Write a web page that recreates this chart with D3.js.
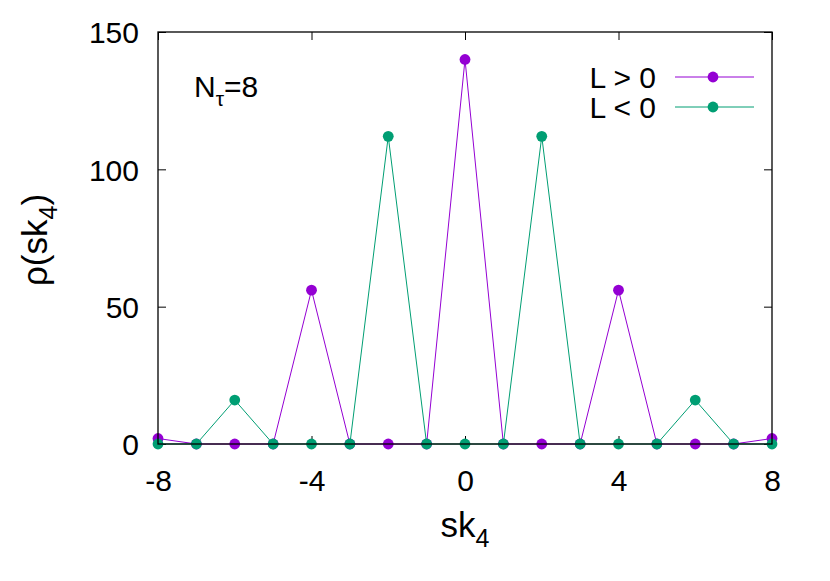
<!DOCTYPE html>
<html><head><meta charset="utf-8">
<script src="https://cdn.jsdelivr.net/npm/d3@7"></script>
<style>body{margin:0;background:#fff}text{font-family:"Liberation Sans",Arial,sans-serif}</style>
</head><body>
<svg id="c" width="830" height="581"></svg>
<script>
const xs = [-8,-7,-6,-5,-4,-3,-2,-1,0,1,2,3,4,5,6,7,8];
const posL = [2,0,0,0,56,0,0,0,140,0,0,0,56,0,0,0,2];
const negL = [0,0,16,0,0,0,112,0,0,0,112,0,0,0,16,0,0];
const xTicks = [-8,-4,0,4,8];
const yTicks = [0,50,100,150];
const seriesNames = ["L > 0","L < 0"];
const colors = ["#9400d3","#009e73"];

const svg = d3.select("#c");
const L=158,R=772,T=32,B=444;
const x = d3.scaleLinear().domain([-8,8]).range([L,R]);
const y = d3.scaleLinear().domain([0,150]).range([B,T]);
const FS = 30;

const g = svg.append("g");
const xa = g.append("g").attr("transform",`translate(0,${B})`)
  .call(d3.axisBottom(x).tickValues(xTicks).tickSize(-8).tickPadding(26).tickFormat(d=>String(d)));
const xt = g.append("g").attr("transform",`translate(0,${T})`)
  .call(d3.axisTop(x).tickValues(xTicks).tickSize(-8).tickFormat(""));
const ya = g.append("g").attr("transform",`translate(${L},0)`)
  .call(d3.axisLeft(y).tickValues(yTicks).tickSize(-8).tickPadding(19).tickFormat(d=>String(d)));
const yr = g.append("g").attr("transform",`translate(${R},0)`)
  .call(d3.axisRight(y).tickValues(yTicks).tickSize(-8).tickFormat(""));
[xa,xt,ya,yr].forEach(a=>{a.select(".domain").remove();a.selectAll("line").attr("stroke","#000");a.selectAll("text").attr("font-size",FS).attr("fill","#000").style("font-family","Liberation Sans, Arial, sans-serif");});
ya.selectAll("text").attr("dy","0.36em");

const data=[posL,negL];
data.forEach((vals,i)=>{
  const pts = xs.map((v,j)=>[v,vals[j]]);
  g.append("path").datum(pts).attr("fill","none").attr("stroke",colors[i]).attr("stroke-width",1)
    .attr("d",d3.line().x(d=>x(d[0])).y(d=>y(d[1])));
  g.selectAll(null).data(pts).enter().append("circle")
    .attr("cx",d=>x(d[0])).attr("cy",d=>y(d[1])).attr("r",5.4).attr("fill",colors[i]);
});

g.append("rect").attr("x",L).attr("y",T).attr("width",R-L).attr("height",B-T)
  .attr("fill","none").attr("stroke","#000").attr("stroke-width",1.3);

seriesNames.forEach((n,i)=>{
  const ly = 77 + i*30;
  g.append("text").attr("x",656).attr("y",ly).attr("dy","0.36em").attr("text-anchor","end")
    .attr("font-size",FS).text(n);
  g.append("line").attr("x1",675).attr("x2",754).attr("y1",ly).attr("y2",ly)
    .attr("stroke",colors[i]).attr("stroke-width",1);
  g.append("circle").attr("cx",713).attr("cy",ly).attr("r",5.4).attr("fill",colors[i]);
});

const nt = g.append("text").attr("x",194).attr("y",97).attr("font-size",FS);
nt.append("tspan").text("N");
nt.append("tspan").attr("font-size",21).attr("dy",9).text("τ");
nt.append("tspan").attr("dy",-9).text("=8");

const xl = g.append("text").attr("x",465).attr("y",537).attr("text-anchor","middle").attr("font-size",35);
xl.append("tspan").text("sk");
xl.append("tspan").attr("font-size",25).attr("dy",10).text("4");

const yl = g.append("text").attr("transform","translate(47,240) rotate(-90)").attr("text-anchor","middle").attr("font-size",35);
yl.append("tspan").text("ρ(sk");
yl.append("tspan").attr("font-size",25).attr("dy",10).text("4");
yl.append("tspan").attr("dy",-10).text(")");
</script>
</body></html>
